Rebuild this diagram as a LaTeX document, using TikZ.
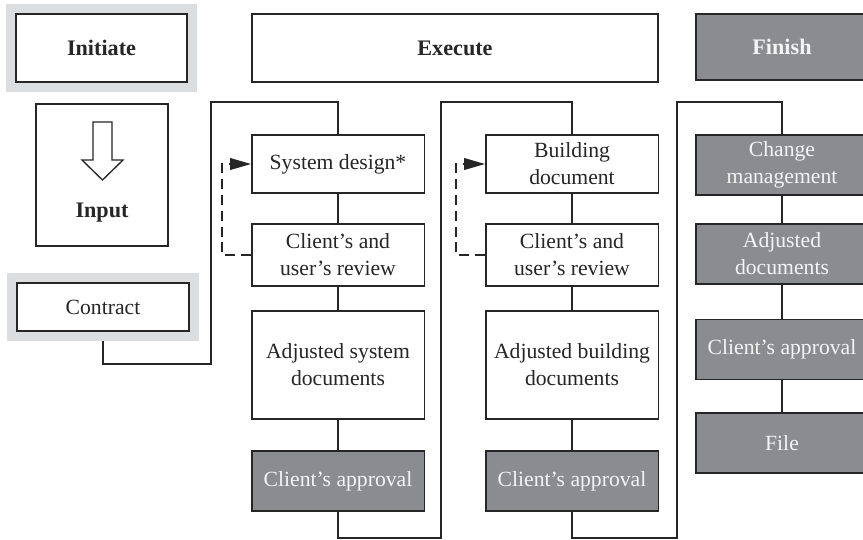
\documentclass[tikz,border=0pt]{standalone}
\usepackage{fontspec}
\setmainfont{Liberation Serif}
\usetikzlibrary{calc,arrows.meta,backgrounds}
\definecolor{ink}{HTML}{262626}
\definecolor{mid}{HTML}{8B8C90}
\definecolor{pale}{HTML}{DCDDDF}
\definecolor{paper}{HTML}{F4F4F4}

\tikzset{
  box/.style={draw=ink,line width=0.9pt,fill=white,text=ink,align=center,inner sep=0pt,
    font=\fontsize{13}{16.2}\selectfont,minimum width=103.5pt},
  dark/.style={box,fill=mid,text=paper},
  rim/.style={preaction={draw=pale,line width=12pt}},
  title/.style={font=\fontsize{13.3}{16.2}\selectfont\bfseries},
  link/.style={draw=ink,line width=0.9pt},
  back/.style={link,dash pattern=on 6pt off 3.5pt,-{Triangle[length=12.5pt,width=7pt]}}
}

\begin{document}
\begin{tikzpicture}[x=0.6pt,y={(0pt,-0.6pt)}]
\useasboundingbox (0,0) rectangle (863,539);

% phases
\node[box,title,rim,minimum width=102.6pt,minimum height=40.8pt] (init) at (101.5,48) {Initiate};
\node[box,title,minimum width=243.6pt,minimum height=40.8pt] (exec) at (455,48) {Execute};
\node[dark,title,minimum width=103.2pt,minimum height=39.6pt] (fin) at (782,47) {Finish};

% input
\node[box,minimum width=79.2pt,minimum height=85.2pt] (inp) at (102,175) {};
\node[title,text=ink] (inplbl) at (102,213) {Input};
\draw[link,line width=0.8pt] (93,122) -- (112,122) -- (112,160) -- (123,160) -- (102.5,180)
  -- (82,160) -- (93,160) -- cycle;
\node[box,rim,minimum width=103.2pt,minimum height=28.8pt] (ctr) at (103,307) {Contract};

% execute columns
\foreach \x/\tA/\tB/\k in {338/{System design*}/{Adjusted system\\documents}/1,
                          572/{Building\\document}/{Adjusted building\\documents}/2} {
  \node[box,minimum height=34.8pt] (d\k) at (\x,164) {\tA};
  \node[box,minimum height=37.2pt] (r\k) at (\x,255) {Client's and\\user's review};
  \node[box,minimum height=64.8pt] (j\k) at (\x,365) {\tB};
  \node[dark,minimum height=36pt] (a\k) at (\x,481) {Client's approval};
  \draw[link] (d\k) -- (r\k) -- (j\k) -- (a\k);
  \draw[back] (r\k.west) -- ++(-29,0) |- (d\k.west);
}

% finish column
\foreach \t/\y/\k in {{Change\\management}/165/1, {Adjusted\\documents}/254/2,
                      {Client's approval}/349.5/3, File/443/4}
  \node[dark,minimum height=36pt] (f\k) at (782,\y) {\t};
\draw[link] (f1) -- (f2) -- (f3) -- (f4);

% flow between columns
\begin{scope}[on background layer]
\draw[link] (ctr.south) |- (211,364) -- (211,102) -| (d1.north);
\draw[link] (a1.south) |- (441,538) -- (441,102) -| (d2.north);
\draw[link] (a2.south) |- (677,538) -- (677,102) -| (f1.north);
\end{scope}
\end{tikzpicture}
\end{document}
